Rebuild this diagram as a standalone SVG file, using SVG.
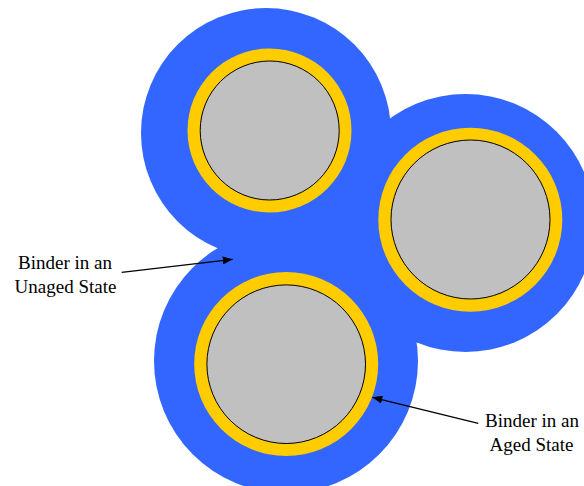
<svg xmlns="http://www.w3.org/2000/svg" width="584" height="486" viewBox="0 0 584 486">
<style>
.binder{fill:#3366FF;}
.aged{fill:#FFCC00;}
.core{fill:#C0C0C0;stroke:#000;stroke-width:1;}
.lbl{font-family:"Liberation Serif","DejaVu Serif","Times New Roman",serif;font-size:19px;fill:#000;text-anchor:middle;}
.conn{stroke:#000;stroke-width:1.3;fill:none;marker-end:url(#ah);}
</style>
<defs>
<marker id="ah" viewBox="0 0 10 8" refX="10" refY="4" markerWidth="10" markerHeight="8" markerUnits="userSpaceOnUse" orient="auto">
<path d="M0,0 L10,4 L0,8 Z" fill="#000"/>
</marker>
</defs>
<g id="binder-unaged">
<circle class="binder" cx="266" cy="133" r="125"/>
<circle class="binder" cx="465.5" cy="223" r="129"/>
<circle class="binder" cx="286" cy="361" r="132"/>
<polygon class="binder" points="266,133 465.5,223 286,361"/>
</g>
<g id="particle-top">
<circle class="aged" cx="269.5" cy="130.5" r="82"/>
<circle class="core" cx="269.7" cy="130.5" r="69.5"/>
</g>
<g id="particle-right">
<circle class="aged" cx="470.3" cy="219.7" r="92"/>
<circle class="core" cx="470.5" cy="219.5" r="79.5"/>
</g>
<g id="particle-bottom">
<circle class="aged" cx="286.2" cy="364" r="92"/>
<circle class="core" cx="286.2" cy="364.2" r="79.3"/>
</g>
<g id="label-unaged">
<text class="lbl" x="65" y="268.5">Binder in an</text>
<text class="lbl" x="65.5" y="292.5">Unaged State</text>
</g>
<g id="label-aged">
<text class="lbl" x="532" y="426.5">Binder in an</text>
<text class="lbl" x="531.5" y="450.5">Aged State</text>
</g>
<g id="connectors">
<line class="conn" x1="121.7" y1="272.3" x2="232.7" y2="259.3"/>
<line class="conn" x1="478.3" y1="423.3" x2="372.3" y2="397.3"/>
</g>
</svg>
